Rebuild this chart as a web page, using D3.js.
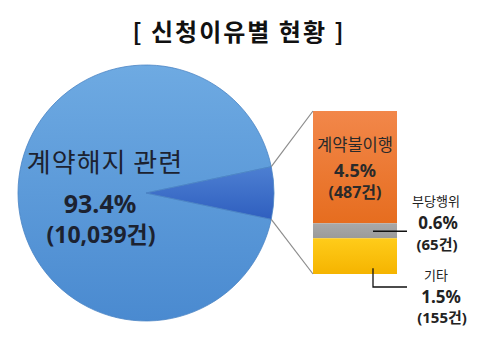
<!DOCTYPE html>
<html>
<head>
<meta charset="utf-8">
<script src="https://cdn.jsdelivr.net/npm/d3@7"></script>
<style>
  body { margin: 0; background: #fff; }
  text { font-family: "Noto Sans CJK KR", "Noto Sans", sans-serif; }
  text.num { font-family: "Noto Sans", "Noto Sans CJK KR", sans-serif; }
</style>
</head>
<body>
<div id="chart"></div>
<script>
// data
var pieNames = ["계약해지 관련", "기타 사유"];
var pieCounts = [10039, 707];
var piePcts = ["93.4%", "6.6%"];

var barNames = ["계약불이행", "부당행위", "기타"];
var barCounts = [487, 65, 155];
var barPcts = ["4.5%", "0.6%", "1.5%"];
var barColors = [["#f2874a", "#e66d1f"], ["#a9a9a9", "#9a9a9a"], ["#ffcc1a", "#f5b400"]];

var svgWidth = 500;
var svgHeight = 340;

var svg = d3.select("#chart")
  .append("svg")
  .attr("width", svgWidth)
  .attr("height", svgHeight);

var defs = svg.append("defs");

// gradients
var g1 = defs.append("linearGradient").attr("id", "pieMain")
  .attr("x1", 0).attr("y1", 0).attr("x2", 0).attr("y2", 1);
g1.append("stop").attr("offset", "0%").attr("stop-color", "#6eaae2");
g1.append("stop").attr("offset", "100%").attr("stop-color", "#4a8ad0");

var g2 = defs.append("linearGradient").attr("id", "pieOther")
  .attr("x1", 0).attr("y1", 0).attr("x2", 0).attr("y2", 1);
g2.append("stop").attr("offset", "0%").attr("stop-color", "#4d7fd2");
g2.append("stop").attr("offset", "100%").attr("stop-color", "#2f5fbf");

barColors.forEach(function(c, i) {
  var g = defs.append("linearGradient").attr("id", "bar" + i)
    .attr("x1", 0).attr("y1", 0).attr("x2", 0).attr("y2", 1);
  g.append("stop").attr("offset", "0%").attr("stop-color", c[0]);
  g.append("stop").attr("offset", "100%").attr("stop-color", c[1]);
});

// title
svg.append("text")
  .attr("x", 239)
  .attr("y", 41)
  .attr("text-anchor", "middle")
  .attr("font-size", "24px")
  .attr("font-weight", "bold")
  .attr("letter-spacing", "2px")
  .attr("fill", "#111")
  .text("[ 신청이유별 현황 ]");

// pie
var cx = 146, cy = 193, radius = 128;
var total = d3.sum(pieCounts);
var otherAngle = 2 * Math.PI * pieCounts[1] / total;

var pie = d3.pie()
  .sort(null)
  .startAngle(Math.PI / 2 + otherAngle / 2)
  .endAngle(Math.PI / 2 + otherAngle / 2 + 2 * Math.PI);

var arc = d3.arc().innerRadius(0).outerRadius(radius);

var pieGroup = svg.append("g")
  .attr("transform", `translate(${cx}, ${cy})`);

var slices = pie(pieCounts);

pieGroup.selectAll("path")
  .data(slices)
  .enter()
  .append("path")
  .attr("d", arc)
  .attr("fill", (d, i) => i === 0 ? "url(#pieMain)" : "url(#pieOther)")
  .attr("stroke", "#4a84c4")
  .attr("stroke-width", 0.8);

// pie labels
svg.append("text")
  .attr("x", 105).attr("y", 172)
  .attr("text-anchor", "middle")
  .attr("font-size", "26px")
  .attr("letter-spacing", "1px")
  .attr("fill", "#1c2230")
  .text(pieNames[0]);

svg.append("text")
  .attr("class", "num")
  .attr("x", 100).attr("y", 213)
  .attr("text-anchor", "middle")
  .attr("font-size", "25px")
  .attr("font-weight", "bold")
  .attr("fill", "#1c2230")
  .text(piePcts[0]);

svg.append("text")
  .attr("class", "num")
  .attr("x", 101).attr("y", 243)
  .attr("text-anchor", "middle")
  .attr("font-size", "23px")
  .attr("font-weight", "bold")
  .attr("fill", "#1c2230")
  .text("(" + d3.format(",")(pieCounts[0]) + "건)");

// stacked bar
var barLeft = 313, barWidth = 84;
var barTop = 111, barBottom = 274;

var yScale = d3.scaleLinear()
  .domain([0, d3.sum(barCounts)])
  .range([barTop, barBottom]);

var cum = 0;
var stacks = barCounts.map(function(v) {
  var s = { y0: cum, y1: cum + v };
  cum += v;
  return s;
});

svg.selectAll(".seg")
  .data(stacks)
  .enter()
  .append("rect")
  .attr("class", "seg")
  .attr("x", barLeft)
  .attr("width", barWidth)
  .attr("y", d => yScale(d.y0))
  .attr("height", d => yScale(d.y1) - yScale(d.y0))
  .attr("fill", (d, i) => "url(#bar" + i + ")");

// connector lines from wedge to bar
var otherSlice = slices[1];
var a0 = otherSlice.startAngle, a1 = otherSlice.endAngle;
var pA = [cx + radius * Math.sin(a1), cy - radius * Math.cos(a1)];
var pB = [cx + radius * Math.sin(a0), cy - radius * Math.cos(a0)];
var upper = pA[1] < pB[1] ? pA : pB;
var lower = pA[1] < pB[1] ? pB : pA;

svg.append("line")
  .attr("x1", upper[0]).attr("y1", upper[1])
  .attr("x2", barLeft).attr("y2", yScale(0))
  .attr("stroke", "#8c8c8c").attr("stroke-width", 1.2);
svg.append("line")
  .attr("x1", lower[0]).attr("y1", lower[1])
  .attr("x2", barLeft).attr("y2", yScale(d3.sum(barCounts)))
  .attr("stroke", "#8c8c8c").attr("stroke-width", 1.2);

// label inside orange segment
var bx = barLeft + barWidth / 2;
svg.append("text")
  .attr("x", bx).attr("y", 151)
  .attr("text-anchor", "middle")
  .attr("font-size", "16.5px")
  .attr("fill", "#2a2a2a")
  .text(barNames[0]);
svg.append("text")
  .attr("class", "num")
  .attr("x", bx).attr("y", 177)
  .attr("text-anchor", "middle")
  .attr("font-size", "18px")
  .attr("font-weight", "bold")
  .attr("fill", "#2a2a2a")
  .text(barPcts[0]);
svg.append("text")
  .attr("class", "num")
  .attr("x", bx).attr("y", 198)
  .attr("text-anchor", "middle")
  .attr("font-size", "16px")
  .attr("font-weight", "bold")
  .attr("fill", "#2a2a2a")
  .text("(" + barCounts[0] + "건)");

// outside labels
var midGray = (yScale(stacks[1].y0) + yScale(stacks[1].y1)) / 2;
svg.append("line")
  .attr("x1", 373).attr("y1", midGray + 0.5)
  .attr("x2", 407).attr("y2", midGray + 0.5)
  .attr("stroke", "#111").attr("stroke-width", 1.3);

svg.append("text")
  .attr("x", 436).attr("y", 206)
  .attr("text-anchor", "middle")
  .attr("font-size", "13px")
  .attr("fill", "#222")
  .text(barNames[1]);
svg.append("text")
  .attr("class", "num")
  .attr("x", 438).attr("y", 229)
  .attr("text-anchor", "middle")
  .attr("font-size", "17px")
  .attr("font-weight", "bold")
  .attr("fill", "#222")
  .text(barPcts[1]);
svg.append("text")
  .attr("class", "num")
  .attr("x", 437).attr("y", 250)
  .attr("text-anchor", "middle")
  .attr("font-size", "15px")
  .attr("font-weight", "bold")
  .attr("fill", "#222")
  .text("(" + barCounts[1] + "건)");

var midYellow = (yScale(stacks[2].y0) + yScale(stacks[2].y1)) / 2;
svg.append("path")
  .attr("d", `M373,${midYellow + 12} V287 H407`)
  .attr("fill", "none")
  .attr("stroke", "#111").attr("stroke-width", 1.3);

svg.append("text")
  .attr("x", 436).attr("y", 280)
  .attr("text-anchor", "middle")
  .attr("font-size", "13px")
  .attr("fill", "#222")
  .text(barNames[2]);
svg.append("text")
  .attr("class", "num")
  .attr("x", 441).attr("y", 303)
  .attr("text-anchor", "middle")
  .attr("font-size", "17px")
  .attr("font-weight", "bold")
  .attr("fill", "#222")
  .text(barPcts[2]);
svg.append("text")
  .attr("class", "num")
  .attr("x", 442).attr("y", 323)
  .attr("text-anchor", "middle")
  .attr("font-size", "15px")
  .attr("font-weight", "bold")
  .attr("fill", "#222")
  .text("(" + barCounts[2] + "건)");
</script>
</body>
</html>
